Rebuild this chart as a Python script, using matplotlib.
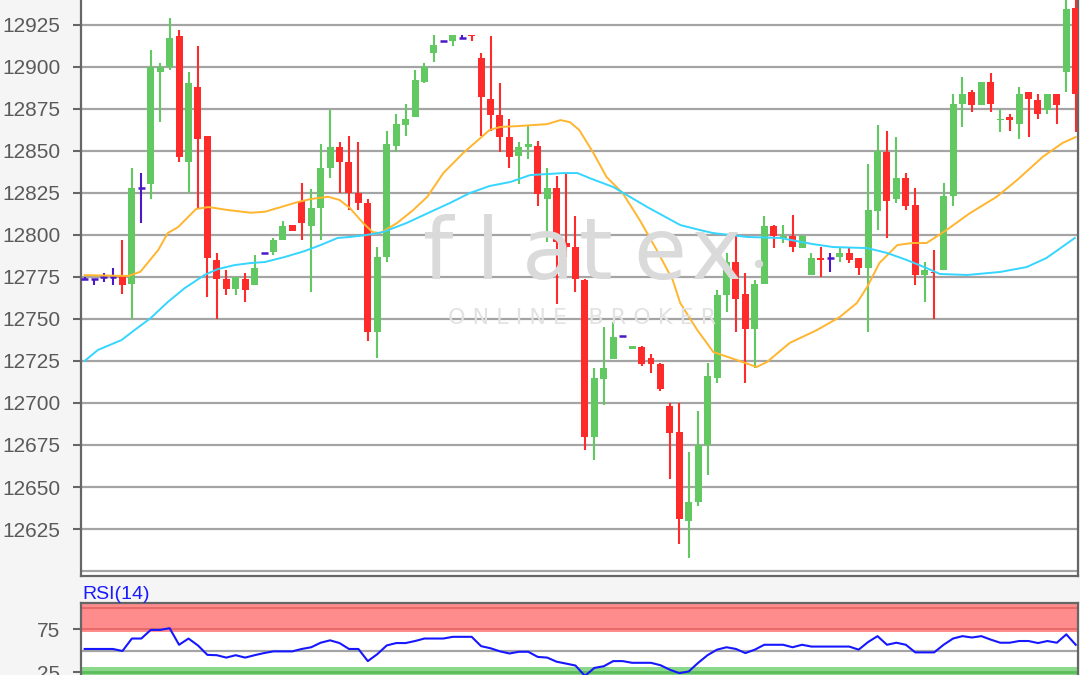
import matplotlib
matplotlib.use("Agg")
import matplotlib.pyplot as plt
import numpy as np

# candle data, one entry per period
opens = [12774, 12774, 12775, 12775, 12776, 12771, 12828, 12830, 12897, 12900,
         12918, 12843, 12888, 12859, 12785, 12774, 12768, 12774, 12770, 12789,
         12790, 12797, 12806, 12820, 12805, 12816, 12840, 12852, 12843, 12825,
         12819, 12742, 12787, 12853, 12865, 12870, 12891, 12908, 12915, 12915,
         12917, 12919, 12905, 12881, 12871, 12858, 12847, 12852, 12853, 12821,
         12828, 12795, 12793, 12773, 12680, 12714, 12726, 12740, 12732, 12733,
         12727, 12723, 12698, 12683, 12630, 12641, 12675, 12715, 12764, 12784,
         12765, 12744, 12771, 12805, 12798, 12799, 12792, 12776, 12786, 12786,
         12787, 12789, 12786, 12780, 12814, 12849, 12821, 12834, 12818, 12776,
         12778, 12779, 12823, 12878, 12885, 12877, 12891, 12868, 12870, 12866,
         12885, 12880, 12874, 12884, 12897, 12935]
highs = [12775, 12774, 12777, 12780, 12797, 12840, 12837, 12910, 12902, 12929,
         12922, 12897, 12912, 12859, 12789, 12779, 12775, 12777, 12788, 12789,
         12798, 12808, 12806, 12831, 12827, 12854, 12874, 12855, 12859, 12855,
         12821, 12793, 12862, 12872, 12878, 12898, 12902, 12919, 12915, 12919,
         12919, 12919, 12908, 12918, 12890, 12869, 12855, 12865, 12856, 12840,
         12835, 12837, 12811, 12774, 12721, 12745, 12748, 12740, 12734, 12734,
         12729, 12724, 12700, 12700, 12671, 12695, 12724, 12767, 12789, 12799,
         12777, 12773, 12811, 12806, 12806, 12812, 12800, 12789, 12793, 12789,
         12792, 12793, 12786, 12842, 12865, 12862, 12858, 12837, 12828, 12784,
         12791, 12831, 12884, 12894, 12886, 12891, 12896, 12875, 12872, 12888,
         12885, 12884, 12884, 12884, 12940, 12940]
lows = [12773, 12770, 12772, 12770, 12765, 12750, 12807, 12821, 12867, 12898,
        12843, 12825, 12816, 12763, 12750, 12764, 12764, 12760, 12770, 12789,
        12788, 12797, 12802, 12797, 12766, 12797, 12834, 12825, 12815, 12815,
        12737, 12727, 12784, 12849, 12859, 12870, 12890, 12903, 12915, 12912,
        12917, 12915, 12859, 12862, 12849, 12840, 12830, 12845, 12817, 12796,
        12759, 12787, 12766, 12672, 12666, 12699, 12726, 12740, 12732, 12722,
        12718, 12707, 12655, 12616, 12608, 12639, 12657, 12712, 12754, 12742,
        12712, 12721, 12771, 12792, 12795, 12790, 12792, 12776, 12775, 12778,
        12784, 12783, 12776, 12742, 12803, 12798, 12819, 12815, 12770, 12760,
        12750, 12779, 12817, 12864, 12873, 12877, 12873, 12861, 12862, 12857,
        12858, 12869, 12872, 12866, 12885, 12861]
closes = [12774, 12774, 12775, 12775, 12770, 12828, 12828, 12900, 12900, 12917,
          12846, 12890, 12857, 12786, 12774, 12768, 12775, 12767, 12780, 12789,
          12797, 12805, 12802, 12807, 12816, 12840, 12852, 12843, 12825, 12819,
          12742, 12787, 12854, 12866, 12869, 12892, 12900, 12913, 12915, 12919,
          12917, 12918, 12882, 12871, 12858, 12846, 12852, 12854, 12824, 12828,
          12796, 12793, 12774, 12680, 12715, 12721, 12739, 12740, 12734, 12723,
          12723, 12708, 12682, 12631, 12641, 12675, 12716, 12764, 12784, 12762,
          12744, 12771, 12805, 12799, 12799, 12793, 12799, 12786, 12785, 12786,
          12789, 12785, 12780, 12815, 12850, 12820, 12834, 12817, 12776, 12779,
          12777, 12823, 12878, 12884, 12877, 12891, 12878, 12869, 12868, 12884,
          12881, 12872, 12884, 12877, 12934, 12884]

# moving averages, sampled along the drawn lines (period index, price)
ma_fast_idx = [0, 4.6, 5.9, 7.8, 8.8, 9.9, 11.8, 13.1, 15.2, 17.6, 19.1, 20.8, 22.6,
               24.0, 25.8, 27.0, 28.1, 29.5, 30.5, 31.3, 33.1, 34.8, 36.3, 38.0,
               40.1, 42.9, 44.0, 46.1, 49.0, 50.4, 51.4, 52.4, 53.9, 55.3, 57.0,
               58.8, 60.6, 62.3, 63.1, 64.9, 66.6, 69.1, 71.2, 72.3, 74.7, 77.6,
               80.0, 81.8, 82.9, 84.2, 86.1, 87.7, 89.2, 91.3, 93.8, 96.6, 98.8,
               101.5, 103.6, 105.0]
ma_fast_val = [12776, 12775.5, 12778, 12791, 12801, 12804.6, 12815.3, 12816.5,
               12814.7, 12813.1, 12813.7, 12816.5, 12819.5, 12821.3, 12822.6,
               12820.7, 12815.9, 12807, 12801.6, 12801, 12807, 12814.7, 12822.6,
               12836.7, 12848.6, 12862.3, 12864.1, 12864.7, 12865.8, 12868.2,
               12867, 12862.3, 12848.6, 12834.3, 12824.8, 12808.8, 12791,
               12773.1, 12759.4, 12743.4, 12730.3, 12725.5, 12721.4, 12724.4,
               12735.7, 12743.4, 12751.1, 12759.4, 12768.9, 12783.2, 12793.9,
               12795.1, 12795.1, 12802.8, 12812.9, 12822.5, 12832.6, 12846.3,
               12854.6, 12858.1]
ma_slow_idx = [0, 1.4, 3.9, 5.3, 7.0, 8.8, 10.6, 12.7, 14.1, 15.9, 17.6, 19.1, 21.2,
               23.3, 25.0, 26.8, 28.1, 29.9, 31.6, 34.1, 36.6, 38.7, 40.8, 42.9,
               45.1, 47.2, 49.0, 50.7, 52.2, 53.5, 56.0, 59.6, 63.1, 65.2, 66.6,
               70.2, 73.7, 77.1, 79.3, 82.9, 85.0, 87.1, 89.2, 90.6, 93.5, 97.0,
               99.8, 101.9, 104.9]
ma_slow_val = [12725, 12731.5, 12737.4, 12743.4, 12750.5, 12760, 12768.3, 12776.1,
               12779.6, 12782, 12783.2, 12783.8, 12786.8, 12790.3, 12793.9,
               12798.1, 12798.7, 12799.9, 12801.6, 12807, 12813.5, 12818.9,
               12824.8, 12829, 12831.4, 12835.5, 12836.1, 12836.7, 12836.7,
               12833.7, 12828.4, 12816.5, 12805.8, 12802.8, 12801, 12798.7,
               12798.1, 12794.5, 12792.7, 12792.1, 12789.2, 12785, 12780.2,
               12776.7, 12776.1, 12777.9, 12780.8, 12786.2, 12798.1]

rsi = [52.1, 52.1, 52.1, 52.1, 49.7, 64.3, 64.3, 74.4, 74.4, 76.4,
       57.0, 64.3, 56.2, 45.2, 44.8, 42.0, 44.8, 42.0, 44.8, 47.3,
       49.3, 49.3, 49.3, 52.1, 54.1, 59.4, 62.2, 59.0, 52.1, 52.1,
       37.9, 46.0, 56.2, 59.0, 59.0, 61.4, 64.3, 64.3, 64.3, 66.3,
       66.3, 66.3, 55.4, 52.9, 49.3, 46.8, 48.8, 48.8, 42.8, 42.0,
       37.2, 35.0, 32.7, 20.6, 29.9, 31.9, 37.9, 37.9, 35.9, 35.9,
       35.9, 33.1, 27.8, 23.8, 25.8, 35.9, 44.9, 51.3, 54.1, 52.1,
       47.3, 51.3, 57.0, 57.0, 57.0, 54.1, 57.0, 54.9, 54.9, 54.9,
       54.9, 54.9, 51.3, 60.2, 67.1, 57.0, 59.4, 57.0, 48.1, 48.1,
       48.1, 57.0, 64.3, 67.1, 65.5, 67.1, 63.0, 59.4, 59.4, 61.4,
       61.4, 59.0, 61.4, 59.4, 69.2, 57.0]

price_ticks = list(range(12625, 12926, 25))
rsi_ticks = [25, 75]

GREEN = "#62c862"
RED = "#ff2b2b"
DOJI = "#4a18c8"
TXT = "#5a5a5a"
GRID = "#a4a4a4"
SPINE = "#666666"

W, H = 1080, 675
fig = plt.figure(figsize=(W / 100, H / 100), dpi=100, facecolor="#f5f5f5")
plt.rcParams["font.family"] = ["Liberation Sans", "DejaVu Sans"]

# main price panel (top runs past the picture edge)
ax = fig.add_axes([81 / W, 1 - 576 / H, 997 / W, 596 / H])
ax.set_facecolor("white")
ax.set_xlim(-0.39, 105.24)
ax.set_ylim(12597.1, 12951.5)

for p in [12600] + price_ticks + [12950]:
    ax.axhline(p, color=GRID, lw=1.6, zorder=0.5)

# watermark
wm = "#dadada"
for ch, px in zip("flatex", [438, 488, 548, 596, 660, 716]):
    fig.text(px / W, 1 - 279 / H, ch, color=wm, fontsize=62, ha="center",
             va="baseline", family="DejaVu Sans", zorder=0.6)
fig.text(758 / W, 1 - 264 / H, "\u25cf", color=wm, fontsize=14, ha="center",
         va="center", zorder=0.6)
fig.text(582 / W, 1 - 318 / H, "O N L I N E   B R O K E R", color="#e2e2e2",
         fontsize=16, ha="center", va="center", family="DejaVu Sans", zorder=0.6)

o = np.array(opens, float)
h = np.array(highs, float)
l = np.array(lows, float)
c = np.array(closes, float)
x = np.arange(len(o))
colors = np.where(c > o, GREEN, np.where(c < o, RED, DOJI))

ax.vlines(x, l, h, colors=colors, lw=1.5, zorder=2)
body = np.maximum(np.abs(c - o), 1.0)
is_doji = c == o
ax.bar(x[~is_doji], body[~is_doji], bottom=np.minimum(o, c)[~is_doji],
       width=0.74, color=colors[~is_doji], linewidth=0, zorder=3)
ax.hlines(o[is_doji], x[is_doji] - 0.37, x[is_doji] + 0.37, colors=DOJI,
          lw=1.8, zorder=3)

ax.plot(ma_fast_idx, ma_fast_val, color="#ffb52e", lw=1.4, zorder=4)
ax.plot(ma_slow_idx, ma_slow_val, color="#35d5ff", lw=1.4, zorder=4)

ax.set_yticks(price_ticks)
ax.set_yticklabels([str(t) for t in price_ticks])
ax.set_xticks([])
ax.tick_params(axis="y", length=6, width=1.5, color=SPINE, pad=9,
               labelsize=15, labelcolor=TXT)
for s in ["left", "bottom", "right"]:
    ax.spines[s].set_color(SPINE)
    ax.spines[s].set_linewidth(1.6)
ax.spines["top"].set_visible(False)

# RSI panel (bottom is cut by the picture edge)
ar = fig.add_axes([81 / W, 1 - 693.5 / H, 997 / W, 90.1 / H])
ar.set_facecolor("white")
ar.set_xlim(-0.39, 105.24)
ar.set_ylim(0, 105.4)
ar.axhspan(72.5, 105.4, color="#ff8c8c", lw=0, zorder=0.5)
ar.axhline(75, color="#e86a6a", lw=1.5, zorder=0.6)
ar.axhline(100, color="#e86a6a", lw=1.5, zorder=0.6)
ar.axhspan(0, 30.5, color="#8bd88b", lw=0, zorder=0.5)
ar.axhline(25, color="#5cbd5c", lw=2, zorder=0.6)
ar.axhline(50, color=GRID, lw=1.6, zorder=0.6)
ar.plot(x, rsi, color="#1717ff", lw=1.5, zorder=3)
ar.set_yticks(rsi_ticks)
ar.set_yticklabels([str(t) for t in rsi_ticks])
ar.set_xticks([])
ar.tick_params(axis="y", length=6, width=1.5, color=SPINE, pad=9,
               labelsize=15, labelcolor=TXT)
for s in ar.spines.values():
    s.set_color(SPINE)
    s.set_linewidth(1.6)

fig.text(82 / W, 1 - 599 / H, "RSI(14)", color="#1a1aff", fontsize=14,
         ha="left", va="baseline")

fig.savefig("out.png", dpi=100, facecolor=fig.get_facecolor())
